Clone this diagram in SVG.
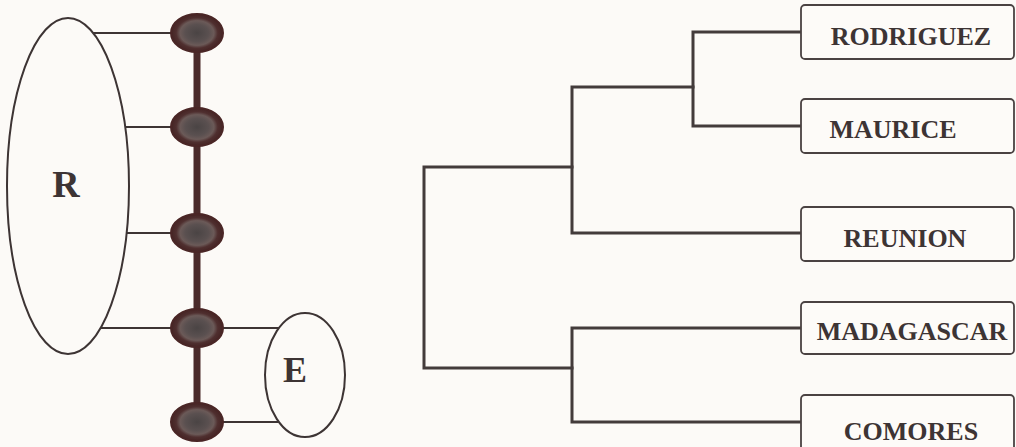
<svg xmlns="http://www.w3.org/2000/svg" width="1016" height="447" viewBox="0 0 1016 447">
<defs>
<radialGradient id="nodeFill" cx="50%" cy="50%" r="50%">
<stop offset="0%" stop-color="#4a4444"/>
<stop offset="45%" stop-color="#5a5050"/>
<stop offset="65%" stop-color="#6b5a58"/>
<stop offset="80%" stop-color="#4f2f2f"/>
<stop offset="100%" stop-color="#452424"/>
</radialGradient>
</defs>
<style>
.bg{fill:#fcfaf7}
.big{fill:none;stroke:#3d3434;stroke-width:2}
.thin{fill:none;stroke:#3d3434;stroke-width:2}
.bar{stroke:#4a2a2a;stroke-width:7;fill:none}
.node{fill:url(#nodeFill);stroke:#4a2626;stroke-width:2}
.tree{fill:none;stroke:#433b3b;stroke-width:3;stroke-linejoin:miter;stroke-linecap:square}
.box{fill:#fdfbf8;stroke:#4a4242;stroke-width:1.8}
.lbl{font-family:"Liberation Serif",serif;font-weight:bold;fill:#3d3434}
.name{font-size:26px;text-anchor:middle}
.letter{text-anchor:middle}
</style>
<rect class="bg" x="0" y="0" width="1016" height="447"/>

<g id="connectors">
  <line class="bar" x1="197" y1="33" x2="197" y2="422"/>
  <line class="thin" x1="93" y1="33" x2="172" y2="33"/>
  <line class="thin" x1="125" y1="127" x2="172" y2="127"/>
  <line class="thin" x1="126" y1="233" x2="172" y2="233"/>
  <line class="thin" x1="101" y1="328" x2="172" y2="328"/>
  <line class="thin" x1="222" y1="328" x2="279" y2="328"/>
  <line class="thin" x1="222" y1="422" x2="279" y2="422"/>
  <path class="tree" d="M572,167 H424 V368 H572"/>
  <path class="tree" d="M801,32 H693 V126 H801"/>
  <path class="tree" d="M693,87 H572 V233 H801"/>
  <path class="tree" d="M801,328 H572 V422 H801"/>
</g>

<g id="R">
  <ellipse class="big" cx="68" cy="186" rx="61" ry="168"/>
  <text class="lbl letter" x="66" y="197" font-size="38">R</text>
</g>
<g id="E">
  <ellipse class="big" cx="305" cy="375" rx="40" ry="62"/>
  <text class="lbl letter" x="295" y="382" font-size="36">E</text>
</g>

<g id="n1"><ellipse class="node" cx="197" cy="33" rx="26" ry="19"/></g>
<g id="n2"><ellipse class="node" cx="197" cy="127" rx="26" ry="19"/></g>
<g id="n3"><ellipse class="node" cx="197" cy="233" rx="26" ry="19"/></g>
<g id="n4"><ellipse class="node" cx="197" cy="328" rx="26" ry="19"/></g>
<g id="n5"><ellipse class="node" cx="197" cy="422" rx="26" ry="19"/></g>

<g id="rodriguez">
  <rect class="box" x="801" y="5" width="213" height="54" rx="4"/>
  <text class="lbl name" x="911" y="45">RODRIGUEZ</text>
</g>
<g id="maurice">
  <rect class="box" x="801" y="99" width="213" height="54" rx="4"/>
  <text class="lbl name" x="893" y="138">MAURICE</text>
</g>
<g id="reunion">
  <rect class="box" x="801" y="207" width="213" height="54" rx="4"/>
  <text class="lbl name" x="905" y="247">REUNION</text>
</g>
<g id="madagascar">
  <rect class="box" x="801" y="302" width="213" height="52" rx="4"/>
  <text class="lbl name" x="912" y="340">MADAGASCAR</text>
</g>
<g id="comores">
  <rect class="box" x="801" y="395" width="213" height="60" rx="4"/>
  <text class="lbl name" x="911" y="440">COMORES</text>
</g>
</svg>
